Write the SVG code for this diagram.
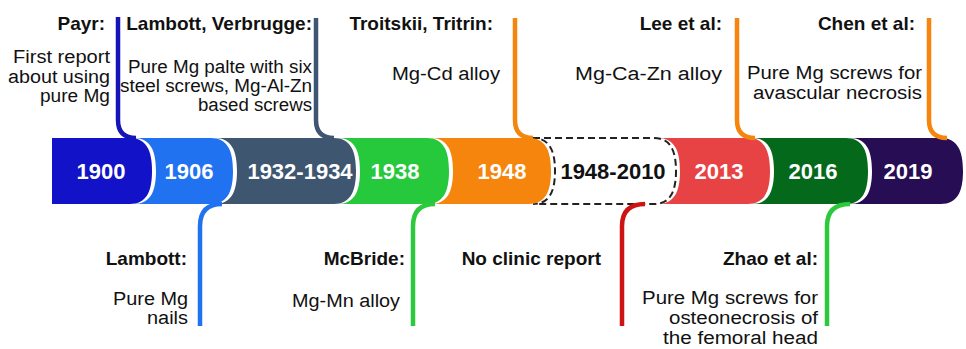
<svg xmlns="http://www.w3.org/2000/svg" width="966" height="349" viewBox="0 0 966 349">
<style>
.yr{font-family:"Liberation Sans",Arial,sans-serif;font-weight:bold;font-size:22px;fill:#fff;text-anchor:middle}
.hd{font-family:"Liberation Sans",Arial,sans-serif;font-weight:bold;font-size:19px;fill:#111;text-anchor:end}
.tx{font-family:"Liberation Sans",Arial,sans-serif;font-size:18px;fill:#111}
.cn{fill:none;stroke-width:4.5}
</style>
<rect width="966" height="349" fill="#fff"/>
<g id="n2019"><path d="M850,138 H941 C957,138 963,150 963,171 C963,192 957,204 941,204 H850 C866,204 872,192 872,171 C872,150 866,138 850,138 Z" fill="#260D54"/><text class="yr" x="908" y="179">2019</text></g>
<g id="n2016"><path d="M752,138 H846 C862,138 868,150 868,171 C868,192 862,204 846,204 H752 C768,204 774,192 774,171 C774,150 768,138 752,138 Z" fill="#05691C"/><text class="yr" x="813" y="179">2016</text></g>
<g id="n2013"><path d="M658,138 H748 C764,138 770,150 770,171 C770,192 764,204 748,204 H658 C674,204 680,192 680,171 C680,150 674,138 658,138 Z" fill="#E84344"/><text class="yr" x="719" y="179">2013</text></g>
<g id="n1948-2010"><path d="M533,138 H654 C670,138 676,150 676,171 C676,192 670,204 654,204 H533 C549,204 555,192 555,171 C555,150 549,138 533,138 Z" fill="#fff" stroke="#222" stroke-width="2" stroke-dasharray="7 4"/><text class="yr" x="613" y="179" style="fill:#111">1948-2010</text></g>
<g id="n1948"><path d="M431,138 H529 C545,138 551,150 551,171 C551,192 545,204 529,204 H431 C447,204 453,192 453,171 C453,150 447,138 431,138 Z" fill="#F5850C"/><text class="yr" x="502" y="179">1948</text></g>
<g id="n1938"><path d="M338,138 H427 C443,138 449,150 449,171 C449,192 443,204 427,204 H338 C354,204 360,192 360,171 C360,150 354,138 338,138 Z" fill="#26C83C"/><text class="yr" x="395" y="179">1938</text></g>
<g id="n1932-1934"><path d="M215,138 H334 C350,138 356,150 356,171 C356,192 350,204 334,204 H215 C231,204 237,192 237,171 C237,150 231,138 215,138 Z" fill="#3E5670"/><text class="yr" x="300" y="179">1932-1934</text></g>
<g id="n1906"><path d="M134,138 H211 C227,138 233,150 233,171 C233,192 227,204 211,204 H134 C150,204 156,192 156,171 C156,150 150,138 134,138 Z" fill="#2072F0"/><text class="yr" x="189" y="179">1906</text></g>
<g id="n1900"><path d="M52,138 H130 C146,138 152,150 152,171 C152,192 146,204 130,204 H52 Z" fill="#1212C8"/><text class="yr" x="101" y="179">1900</text></g>

<g id="connectors">
<path class="cn" stroke="#1414B8" d="M118,17 V120 C118,132 124,138 136,138"/>
<path class="cn" stroke="#3E5672" d="M316,18 V120 C316,132 322,138 334,138"/>
<path class="cn" stroke="#F5850C" d="M515,18 V120 C515,132 521,138 533,138"/>
<path class="cn" stroke="#F5850C" d="M737,18 V120 C737,132 743,138 755,138"/>
<path class="cn" stroke="#F5850C" d="M929,18 V120 C929,132 935,138 947,138"/>
<path class="cn" stroke="#2072F0" d="M200,326 V226 C200,212 207,204 222,204"/>
<path class="cn" stroke="#2CC93C" d="M413,326 V226 C413,212 420,204 435,204"/>
<path class="cn" stroke="#CC1414" d="M622,326 V226 C622,212 629,204 645,204"/>
<path class="cn" stroke="#2CC93C" d="M827,326 V226 C827,212 834,204 850,204"/>
</g>

<g id="t-payr"><text class="hd" x="105" y="30">Payr:</text>
<text class="tx" x="13" y="63" textLength="97" lengthAdjust="spacingAndGlyphs">First report</text>
<text class="tx" x="8" y="82.5" textLength="102" lengthAdjust="spacingAndGlyphs">about using</text>
<text class="tx" x="40" y="101.5" textLength="70" lengthAdjust="spacingAndGlyphs">pure Mg</text></g>
<g id="t-lambott-verbrugge"><text class="hd" x="312" y="30">Lambott, Verbrugge:</text>
<text class="tx" x="128" y="72.5" textLength="184" lengthAdjust="spacingAndGlyphs">Pure Mg palte with six</text>
<text class="tx" x="120" y="91.5" textLength="192" lengthAdjust="spacingAndGlyphs">steel screws, Mg-Al-Zn</text>
<text class="tx" x="198" y="111" textLength="114" lengthAdjust="spacingAndGlyphs">based screws</text></g>
<g id="t-troitskii"><text class="hd" x="493" y="30">Troitskii, Tritrin:</text>
<text class="tx" x="392" y="80" textLength="108" lengthAdjust="spacingAndGlyphs">Mg-Cd alloy</text></g>
<g id="t-lee"><text class="hd" x="722" y="30">Lee et al:</text>
<text class="tx" x="575" y="80" textLength="147" lengthAdjust="spacingAndGlyphs">Mg-Ca-Zn alloy</text></g>
<g id="t-chen"><text class="hd" x="915" y="30">Chen et al:</text>
<text class="tx" x="747" y="79" textLength="175" lengthAdjust="spacingAndGlyphs">Pure Mg screws for</text>
<text class="tx" x="753" y="99" textLength="169" lengthAdjust="spacingAndGlyphs">avascular necrosis</text></g>
<g id="t-lambott"><text class="hd" x="187" y="265">Lambott:</text>
<text class="tx" x="113" y="305" textLength="75" lengthAdjust="spacingAndGlyphs">Pure Mg</text>
<text class="tx" x="147" y="324" textLength="41" lengthAdjust="spacingAndGlyphs">nails</text></g>
<g id="t-mcbride"><text class="hd" x="405" y="265">McBride:</text>
<text class="tx" x="292" y="307" textLength="108" lengthAdjust="spacingAndGlyphs">Mg-Mn alloy</text></g>
<g id="t-noclinic"><text class="hd" x="601" y="265">No clinic report</text></g>
<g id="t-zhao"><text class="hd" x="818" y="265">Zhao et al:</text>
<text class="tx" x="642" y="304" textLength="176" lengthAdjust="spacingAndGlyphs">Pure Mg screws for</text>
<text class="tx" x="669" y="324" textLength="149" lengthAdjust="spacingAndGlyphs">osteonecrosis of</text>
<text class="tx" x="663" y="344" textLength="155" lengthAdjust="spacingAndGlyphs">the femoral head</text></g>
</svg>
